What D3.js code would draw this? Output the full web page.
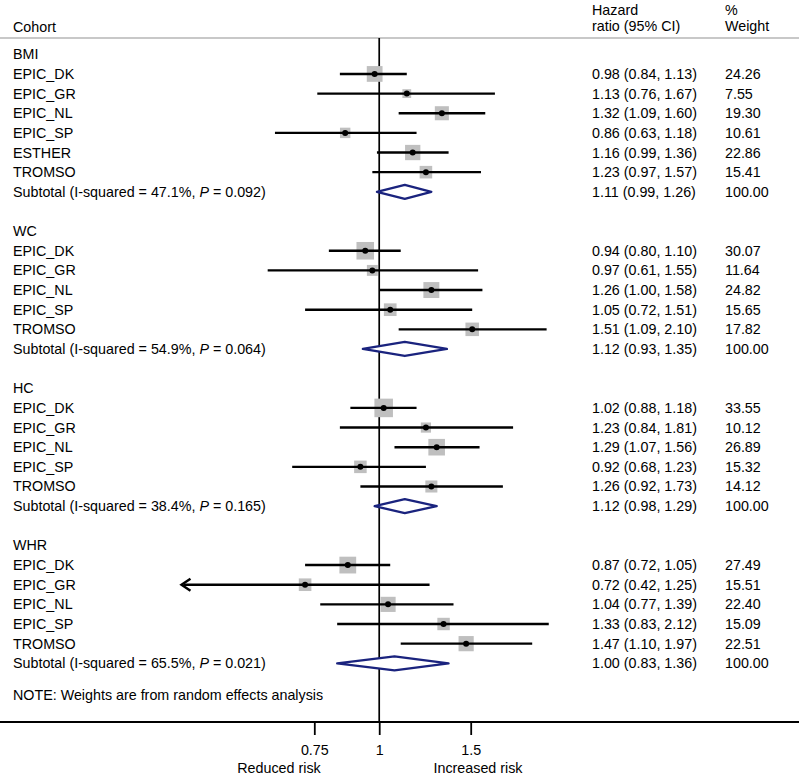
<!DOCTYPE html>
<html>
<head>
<meta charset="utf-8">
<script src="https://cdn.jsdelivr.net/npm/d3@7"></script>
<style>
body{margin:0;background:#fff;}
svg{display:block;font-family:"Liberation Sans",Arial,Helvetica,sans-serif;}
</style>
</head>
<body>
<svg></svg>
<script>
const canvasWidth=799;
const canvasHeight=777;

const groupNames=["BMI","WC","HC","WHR"];
const cohorts=[
    ["EPIC_DK","EPIC_GR","EPIC_NL","EPIC_SP","ESTHER","TROMSO"],
    ["EPIC_DK","EPIC_GR","EPIC_NL","EPIC_SP","TROMSO"],
    ["EPIC_DK","EPIC_GR","EPIC_NL","EPIC_SP","TROMSO"],
    ["EPIC_DK","EPIC_GR","EPIC_NL","EPIC_SP","TROMSO"]
];
const hr=[
    [0.98,1.13,1.32,0.86,1.16,1.23],
    [0.94,0.97,1.26,1.05,1.51],
    [1.02,1.23,1.29,0.92,1.26],
    [0.87,0.72,1.04,1.33,1.47]
];
const lower=[
    [0.84,0.76,1.09,0.63,0.99,0.97],
    [0.80,0.61,1.00,0.72,1.09],
    [0.88,0.84,1.07,0.68,0.92],
    [0.72,0.42,0.77,0.83,1.10]
];
const upper=[
    [1.13,1.67,1.60,1.18,1.36,1.57],
    [1.10,1.55,1.58,1.51,2.10],
    [1.18,1.81,1.56,1.23,1.73],
    [1.05,1.25,1.39,2.12,1.97]
];
const weight=[
    ["24.26","7.55","19.30","10.61","22.86","15.41"],
    ["30.07","11.64","24.82","15.65","17.82"],
    ["33.55","10.12","26.89","15.32","14.12"],
    ["27.49","15.51","22.40","15.09","22.51"]
];
// subtotals (diamond centre; printed text kept separately)
const subHR=[1.12,1.12,1.12,1.07];
const subLower=[0.99,0.93,0.98,0.83];
const subUpper=[1.26,1.35,1.29,1.36];
const subText=["1.11 (0.99, 1.26)","1.12 (0.93, 1.35)","1.12 (0.98, 1.29)","1.00 (0.83, 1.36)"];
const iSquared=["47.1%","54.9%","38.4%","65.5%"];
const pValue=["0.092","0.064","0.165","0.021"];
// arrow drawn where a CI runs past the plotted range
const clipped=[[],[],[],[1]];

const xTicks=[0.75,1,1.5];
const xTickLabels=["0.75","1","1.5"];

var x=d3.scaleLog().domain([0.75,1.5]).range([314.3,470.7]);
var y=d3.scaleLinear().domain([0,31]).range([54.3,663.3]);

var svg=d3.select("svg").attr("width",canvasWidth).attr("height",canvasHeight);

const fs=14.3;
const colLabel=13, colHR=592, colW=725;

// header
svg.append("text").attr("x",colLabel).attr("y",32).style("font-size",fs+"px").text("Cohort");
svg.append("text").attr("x",colHR).attr("y",15).style("font-size",fs+"px").text("Hazard");
svg.append("text").attr("x",colHR).attr("y",31).style("font-size",fs+"px").text("ratio (95% CI)");
svg.append("text").attr("x",colW).attr("y",15).style("font-size",fs+"px").text("%");
svg.append("text").attr("x",colW).attr("y",31).style("font-size",fs+"px").text("Weight");
svg.append("line").attr("x1",0).attr("x2",canvasWidth).attr("y1",38).attr("y2",38)
    .style("stroke","#c8c8c8").style("stroke-width",2);

var axisY=722;

// null line
svg.append("line").attr("x1",x(1)).attr("x2",x(1)).attr("y1",38).attr("y2",axisY)
    .style("stroke","black").style("stroke-width",1.7);

var row=0;
for(let g=0;g<groupNames.length;g++){
    svg.append("text").attr("x",colLabel).attr("y",y(row)+5).style("font-size",fs+"px").text(groupNames[g]);
    row++;
    for(let i=0;i<cohorts[g].length;i++){
        let cy=y(row);
        let side=3.2*Math.sqrt(+weight[g][i]);
        svg.append("rect")
            .attr("x",x(hr[g][i])-side/2).attr("y",cy-side/2)
            .attr("width",side).attr("height",side)
            .style("fill","#bfbfbf");
        svg.append("line")
            .attr("x1",x(lower[g][i])).attr("x2",x(upper[g][i]))
            .attr("y1",cy).attr("y2",cy)
            .style("stroke","black").style("stroke-width",2.4);
        if(clipped[g].indexOf(i)>=0){
            let ax=x(lower[g][i])-2;
            svg.append("path")
                .attr("d","M"+(ax+9)+","+(cy-6)+"L"+ax+","+cy+"L"+(ax+9)+","+(cy+6))
                .style("fill","none").style("stroke","black").style("stroke-width",2.4);
        }
        svg.append("circle").attr("cx",x(hr[g][i])).attr("cy",cy).attr("r",3).style("fill","black");
        svg.append("text").attr("x",colLabel).attr("y",cy+5).style("font-size",fs+"px").text(cohorts[g][i]);
        svg.append("text").attr("x",colHR).attr("y",cy+5).style("font-size",fs+"px")
            .text(hr[g][i].toFixed(2)+" ("+lower[g][i].toFixed(2)+", "+upper[g][i].toFixed(2)+")");
        svg.append("text").attr("x",colW).attr("y",cy+5).style("font-size",fs+"px").text(weight[g][i]);
        row++;
    }
    // subtotal
    let cy=y(row);
    let t=svg.append("text").attr("x",colLabel).attr("y",cy+5).style("font-size",fs+"px");
    t.append("tspan").text("Subtotal (I-squared = "+iSquared[g]+", ");
    t.append("tspan").style("font-style","italic").text("P");
    t.append("tspan").text(" = "+pValue[g]+")");
    svg.append("path")
        .attr("d","M"+x(subLower[g])+","+cy+"L"+x(subHR[g])+","+(cy-7)+"L"+x(subUpper[g])+","+cy+"L"+x(subHR[g])+","+(cy+7)+"Z")
        .style("fill","white").style("stroke","#1a237e").style("stroke-width",2.3).style("stroke-linejoin","round");
    svg.append("text").attr("x",colHR).attr("y",cy+5).style("font-size",fs+"px").text(subText[g]);
    svg.append("text").attr("x",colW).attr("y",cy+5).style("font-size",fs+"px").text("100.00");
    row+=2;
}

svg.append("text").attr("x",colLabel).attr("y",y(row-2)+37).style("font-size",fs+"px")
    .text("NOTE: Weights are from random effects analysis");

// axis
svg.append("line").attr("x1",0).attr("x2",canvasWidth).attr("y1",axisY).attr("y2",axisY)
    .style("stroke","black").style("stroke-width",1.8);
var ax=svg.append("g").attr("transform","translate(0,"+axisY+")")
    .call(d3.axisBottom(x).tickValues(xTicks).tickFormat(function(d,i){return xTickLabels[i];}).tickSize(13).tickPadding(10));
ax.select(".domain").remove();
ax.selectAll(".tick line").style("stroke","black").style("stroke-width",1.8);
ax.selectAll(".tick text").style("font-size",fs+"px").style("font-family","'Liberation Sans',Arial,sans-serif").attr("fill","black");

svg.append("text").attr("x",279).attr("y",773).attr("text-anchor","middle").style("font-size",fs+"px").text("Reduced risk");
svg.append("text").attr("x",478).attr("y",773).attr("text-anchor","middle").style("font-size",fs+"px").text("Increased risk");
</script>
</body>
</html>
